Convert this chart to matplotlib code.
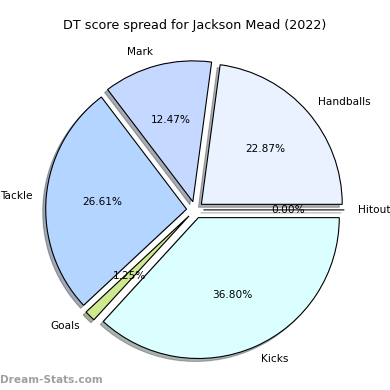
import matplotlib
matplotlib.use("Agg")
import matplotlib.pyplot as plt

labels = ["Hitout", "Handballs", "Mark", "Tackle", "Goals", "Kicks"]
shares = [0.00, 22.87, 12.47, 26.61, 1.25, 36.80]
colors = ["#f0f0f0", "#eaf1ff", "#c5d8ff", "#b3d5ff", "#cfe98f", "#dbffff"]
title = "DT score spread for Jackson Mead (2022)"

fig = plt.figure(figsize=(3.9, 3.9), dpi=100)
ax = fig.add_axes([0.0485, 0.0103, 0.903, 0.903])

ax.pie(shares, labels=labels, colors=colors, autopct="%1.2f%%",
       explode=[0.06] * len(shares),
       shadow={"ox": -0.015, "oy": -0.015, "shade": 0.6}, startangle=0,
       wedgeprops={"edgecolor": "black", "linewidth": 0.8},
       textprops={"fontsize": 7.6})
ax.set_aspect("equal")

fig.text(0.5, 0.935, title, ha="center", va="center", fontsize=9.2)
fig.text(0.0, 0.025, "Dream-Stats.com", ha="left", va="center",
         fontsize=7.6, color="#a0a0a0", fontweight="semibold")

fig.savefig("out.png", dpi=100)
